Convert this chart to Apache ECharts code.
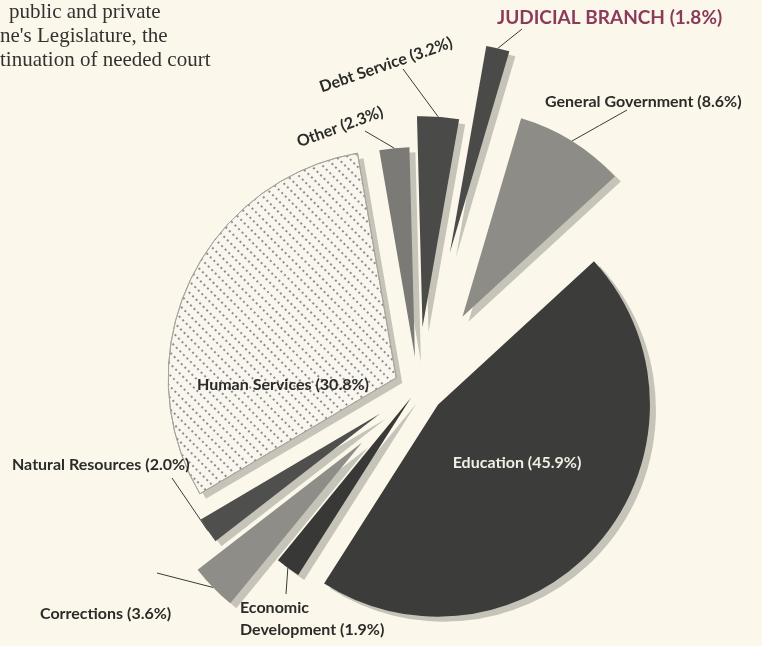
<!DOCTYPE html>
<html>
<head>
<meta charset="utf-8">
<script src="https://cdn.jsdelivr.net/npm/echarts@6/dist/echarts.min.js"></script>
<style>
  html, body { margin: 0; padding: 0; background: #fbf8eb; }
  #chart { width: 762px; height: 646px; }
</style>
</head>
<body>
<div id="chart"></div>
<script>
// 数据：各部门占比（%）
var categories = ['Judicial Branch', 'General Government', 'Education', 'Economic Development',
  'Corrections', 'Natural Resources', 'Human Services', 'Other', 'Debt Service'];
var shares = [1.8, 8.6, 45.9, 1.9, 3.6, 2.0, 30.8, 2.3, 3.2];
// 左上角被裁切的正文
var introLines = ['public and private', "ne's Legislature, the", 'tinuation of needed court'];

// 样式：颜色、爆炸距离、半径
var sliceColors = ['#4a4a48', '#8d8c87', '#3c3c3a', '#383836', '#8e8d88', '#4f4f4d', '#f8f6ee', '#7b7a76', '#4a4a48'];
var explode = [139, 84, 26, 12, 78, 46, 24, 31, 61];
var radii = [210, 207, 212, 210, 208, 208, 228, 210, 211];
var hatchedIndex = 6; // 点状纹理的扇区
// 标签位置 [x, y, align, rotate]；引线终点（起点取扇区外缘）
var labelSpots = [
  [497, 18, 'left', 0],
  [545, 102, 'left', 0],
  [517, 463, 'center', 0],
  [240, 619, 'left', 0],
  [40, 614, 'left', 0],
  [12, 465, 'left', 0],
  [283, 385, 'center', 0],
  [340, 127, 'center', 20],
  [386, 65, 'center', 19]
];
var leaderEnds = [[522, 29], [627, 110], null, [286, 594], [157, 573], [172, 478], null, [365, 131], [403, 69]];

var chart = echarts.init(document.getElementById('chart'));
var cx = 418, cy = 388;
var startHeading = 10; // 从12点方向顺时针的起始角度
var total = shares.reduce(function (a, b) { return a + b; }, 0);

// 单个扇区一个系列，便于每块各自外移
function sliceSeries(i, center, ownStyle, withLabel) {
  var inside = leaderEnds[i] === null;
  var spot = labelSpots[i];
  var end = leaderEnds[i];
  return {
    type: 'pie',
    center: center,
    radius: radii[i],
    startAngle: 90 - startHeading,
    clockwise: true,
    silent: true,
    animation: false,
    avoidLabelOverlap: false,
    data: categories.map(function (name, j) {
      var own = j === i;
      return {
        name: name,
        value: shares[j],
        itemStyle: own ? ownStyle : { color: 'rgba(0,0,0,0)', borderWidth: 0 },
        label: {
          show: own && withLabel,
          position: inside ? 'inside' : 'outside',
          formatter: function (p) {
            var txt = p.name + ' (' + p.value.toFixed(1) + '%)';
            if (p.dataIndex === 0) txt = txt.toUpperCase();
            if (p.dataIndex === 3) txt = txt.replace(' ', '\n');
            return txt;
          },
          fontFamily: 'Lato',
          fontWeight: 'bold',
          fontSize: i === 0 ? 19 : 16,
          lineHeight: 22,
          color: i === 0 ? '#8c3a5b' : (i === 2 ? '#f1efe5' : '#2b2b2a')
        },
        labelLine: {
          show: own && withLabel && !inside,
          lineStyle: { color: '#3a3a38', width: 1 }
        }
      };
    }),
    labelLayout: function (params) {
      var res = {
        x: spot[0],
        y: spot[1],
        align: spot[2],
        verticalAlign: 'middle',
        rotate: spot[3]
      };
      if (end && params.labelLinePoints) {
        var p0 = params.labelLinePoints[0];
        res.labelLinePoints = [p0, [(p0[0] + end[0]) / 2, (p0[1] + end[1]) / 2], end];
      }
      return res;
    }
  };
}

var series = [];
var hatchCenter = null;
var acc = 0;
shares.forEach(function (v, i) {
  var mid = startHeading + (acc + v / 2) / total * 360;
  acc += v;
  var rad = mid * Math.PI / 180;
  var center = [cx + explode[i] * Math.sin(rad), cy - explode[i] * Math.cos(rad)];
  if (i === hatchedIndex) hatchCenter = center;
  series.push(sliceSeries(i, center, {
    color: sliceColors[i],
    borderWidth: 0,
    shadowColor: '#c6c4b9',
    shadowBlur: 0,
    shadowOffsetX: 6,
    shadowOffsetY: 5
  }, i !== hatchedIndex));
});
// 点状纹理覆盖层（无阴影）
series.push(sliceSeries(hatchedIndex, hatchCenter, {
  color: sliceColors[hatchedIndex],
  borderColor: '#a8a69c',
  borderWidth: 1,
  decal: {
    symbol: 'rect',
    symbolSize: 1,
    dashArrayX: [1.2, 2.6],
    dashArrayY: [1.2, 6],
    rotation: Math.PI / 4,
    color: '#8f8d84'
  }
}, true));

chart.setOption({
  backgroundColor: '#fbf8eb',
  animation: false,
  graphic: introLines.map(function (t, k) {
    return {
      type: 'text',
      left: k === 0 ? 9 : 0,
      top: 2 + k * 24,
      style: {
        text: t,
        font: '21px "Liberation Serif", serif',
        fill: '#333230'
      }
    };
  }),
  series: series
});
</script>
</body>
</html>
